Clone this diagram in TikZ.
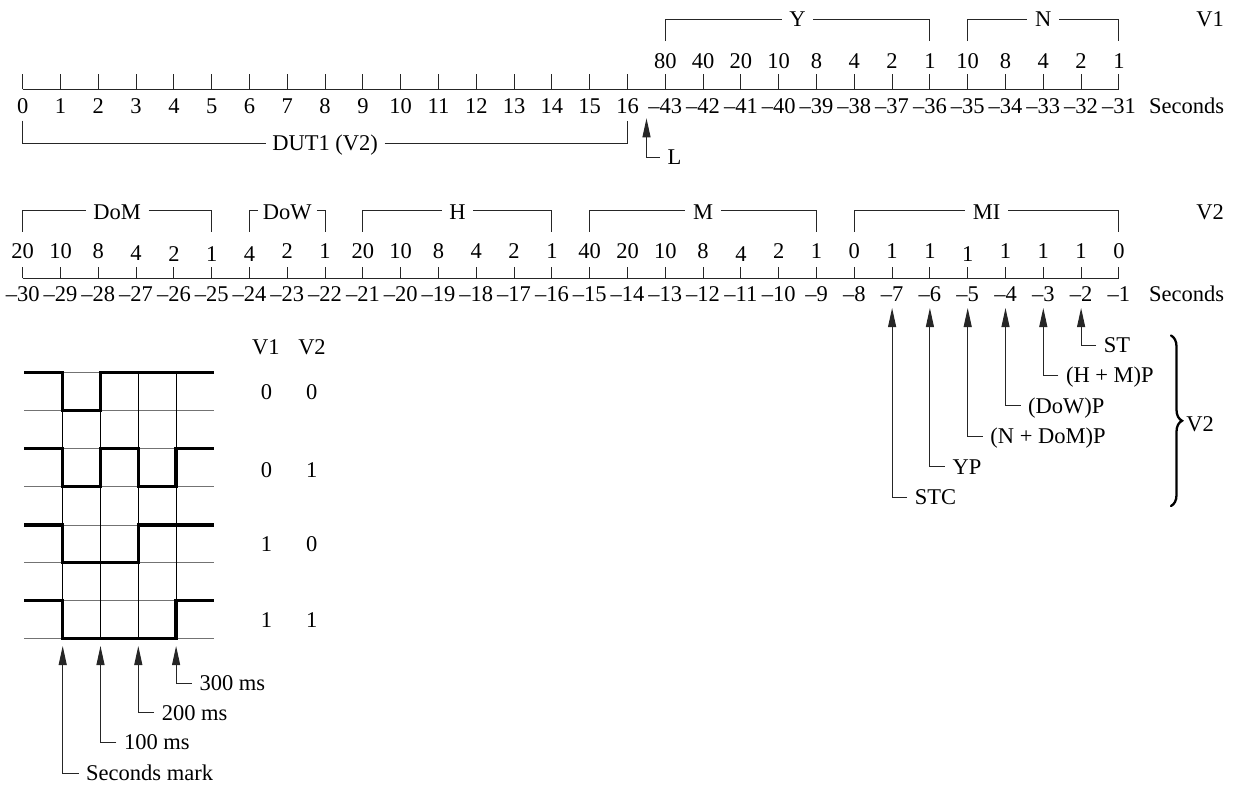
\documentclass[tikz,border=0pt]{standalone}
\usepackage{fontspec}
\setmainfont{Liberation Serif}
\usetikzlibrary{arrows.meta,decorations.pathreplacing}
\begin{document}
\begin{tikzpicture}[x=1pt,y=-1pt,
  every node/.style={inner sep=0pt, text height=14.8pt, text depth=0pt, font=\fontsize{22.5}{27}\selectfont},
  ln/.style={line width=1pt, draw=black!85},
  tickln/.style={line width=1pt, draw=black!85},
  arr/.style={line width=1pt, draw=black!85, -{Triangle[width=8pt,length=19pt]}},
  wave/.style={line width=3.5pt, line cap=butt, line join=miter},
  hgrid/.style={line width=1pt, draw=black!55},
  vgrid/.style={line width=0.9pt, draw=black},
]
\useasboundingbox (0,0) rectangle (1235,785);

% ---------------- Row 1 (V1) ----------------
\foreach \lab [count=\i from 0] in {0,1,2,3,4,5,6,7,8,9,10,11,12,13,14,15,16,\textendash43,\textendash42,\textendash41,\textendash40,\textendash39,\textendash38,\textendash37,\textendash36,\textendash35,\textendash34,\textendash33,\textendash32,\textendash31}{
  \pgfmathsetmacro\xx{22.7+37.8*\i}
  \coordinate (A\i) at (\xx,89.3);
  \coordinate (At\i) at (\xx,74.3);
  \draw[tickln] (A\i) -- (At\i);
  \node (Al\i) at (\xx,106) {\lab};
}
\draw[ln] (A0) -- (A29);
\foreach \lab [count=\i from 17] in {80,40,20,10,8,4,2,1,10,8,4,2,1}{
  \node (Au\i) at ({22.7+37.8*\i},61) {\lab};
}
\foreach \nm/\l/\r in {Y/17/24, N/25/29}{
  \pgfmathsetmacro\xl{22.7+37.8*\l}
  \pgfmathsetmacro\xr{22.7+37.8*\r}
  \coordinate (\nm L) at (\xl,41);
  \coordinate (\nm R) at (\xr,41);
  \node[inner xsep=7.5pt] (\nm) at ({(\xl+\xr)/2},19.5) {\nm};
  \draw[ln] (\nm L) |- ([yshift=0.5pt]\nm.west);
  \draw[ln] ([yshift=0.5pt]\nm.east) -| (\nm R);
}
\node (V1top) at (1210,19.5) {V1};
\node[anchor=west] (sec1) at (1149,106) {Seconds};

% DUT1 bracket
\coordinate (DUTl) at (22.7,120.7);
\coordinate (DUTr) at (627.5,120.7);
\node[inner xsep=6.5pt] (DUT) at (325.1,143.5) {DUT1 (V2)};
\draw[ln] (DUTl) |- (DUT.west);
\draw[ln] (DUT.east) -| (DUTr);

% L marker
\coordinate (Ltip) at (646.5,118.3);
\node[anchor=west] (Llab) at (667.5,157) {L};
\draw[arr] ([xshift=-8pt]Llab.west) -| (Ltip);

% ---------------- Row 2 (V2) ----------------
\foreach \lab [count=\i from 0] in {\textendash30,\textendash29,\textendash28,\textendash27,\textendash26,\textendash25,\textendash24,\textendash23,\textendash22,\textendash21,\textendash20,\textendash19,\textendash18,\textendash17,\textendash16,\textendash15,\textendash14,\textendash13,\textendash12,\textendash11,\textendash10,\textendash9,\textendash8,\textendash7,\textendash6,\textendash5,\textendash4,\textendash3,\textendash2,\textendash1}{
  \pgfmathsetmacro\xx{22.7+37.8*\i}
  \coordinate (B\i) at (\xx,278.3);
  \coordinate (Bt\i) at (\xx,267);
  \draw[tickln] (B\i) -- (Bt\i);
  \node (Bl\i) at (\xx,294.4) {\lab};
}
\draw[ln] (B0) -- (B29);
\foreach \lab/\off [count=\i from 0] in {20/0,10/0,8/0,4/2,2/3,1/3,4/3,2/0,1/0,20/0,10/0,8/0,4/0,2/0,1/0,40/0,20/0,10/0,8/0,4/3,2/0,1/0,0/0,1/0,1/0,1/3,1/0,1/0,1/0,0/0}{
  \node (Bu\i) at ({22.7+37.8*\i},{251+\off}) {\lab};
}
\foreach \nm/\l/\r/\sep in {DoM/0/5/7.5, DoW/6/8/5, H/9/14/7.5, M/15/21/7.5, MI/22/29/7.5}{
  \pgfmathsetmacro\xl{22.7+37.8*\l}
  \pgfmathsetmacro\xr{22.7+37.8*\r}
  \coordinate (\nm L) at (\xl,231.7);
  \coordinate (\nm R) at (\xr,231.7);
  \node[inner xsep=\sep pt] (\nm) at ({(\xl+\xr)/2},212) {\nm};
  \draw[ln] (\nm L) |- ([yshift=2pt]\nm.west);
  \draw[ln] ([yshift=2pt]\nm.east) -| (\nm R);
}
\node (V2top) at (1210,212.5) {V2};
\node[anchor=west] (sec2) at (1149,294.4) {Seconds};

% parity / marker arrows
\foreach \lab/\yy [count=\i from 23] in {STC/497, YP/466.6, {(N + DoM)P}/436.2, {(DoW)P}/405.9, {(H + M)P}/375.5, ST/345.1}{
  \pgfmathsetmacro\xx{22.7+37.8*\i}
  \coordinate (T\i) at (\xx,308);
  \node[anchor=west] (P\i) at (\xx+22.5,\yy) {\lab};
  \draw[arr] ([xshift=-7.5pt]P\i.west) -| (T\i);
}
\coordinate (brT) at (1171,335.5);
\coordinate (brB) at (1171,506);
\draw[line width=2.3pt, line cap=round, decorate, decoration={brace, amplitude=11pt, aspect=0.5}] (brT) -- (brB);
\node (V2br) at (1200,424) {V2};

% ---------------- Waveforms ----------------
\foreach \yy in {372.7,410.7,448.3,486.7,525,562.7,600.7,638.3}{
  \draw[hgrid] (24,\yy) -- (213.8,\yy);
}
\foreach \xx in {62.7,100.5,138.3,176.1}{
  \draw[vgrid] (\xx,372.7) -- (\xx,638.3);
}
\draw[wave] (24,372.7) -- (62.7,372.7) -- (62.7,410.7) -- (100.5,410.7) -- (100.5,372.7) -- (213.8,372.7);
\draw[wave] (24,448.3) -- (62.7,448.3) -- (62.7,486.7) -- (100.5,486.7) -- (100.5,448.3) -- (138.3,448.3) -- (138.3,486.7) -- (176.1,486.7) -- (176.1,448.3) -- (213.8,448.3);
\draw[wave] (24,525) -- (62.7,525) -- (62.7,562.7) -- (138.3,562.7) -- (138.3,525) -- (213.8,525);
\draw[wave] (24,600.7) -- (62.7,600.7) -- (62.7,638.3) -- (176.1,638.3) -- (176.1,600.7) -- (213.8,600.7);

\node (hV1) at (265.8,346.7) {V1};
\node (hV2) at (312,346.7) {V2};
\foreach \a/\b/\yy [count=\k] in {0/0/392.5, 0/1/470, 1/0/544, 1/1/620.5}{
  \node (va\k) at (266.5,\yy) {\a};
  \node (vb\k) at (311.7,\yy) {\b};
}

\foreach \lab/\xx/\yy [count=\k] in {Seconds mark/62.7/773.3, 100 ms/100.5/742.3, 200 ms/138.3/712.7, 300 ms/176.1/683.3}{
  \coordinate (W\k) at (\xx,646);
  \node[anchor=west] (WL\k) at (\xx+23.3,\yy) {\lab};
  \draw[arr] ([xshift=-7.5pt]WL\k.west) -| (W\k);
}
\end{tikzpicture}
\end{document}
